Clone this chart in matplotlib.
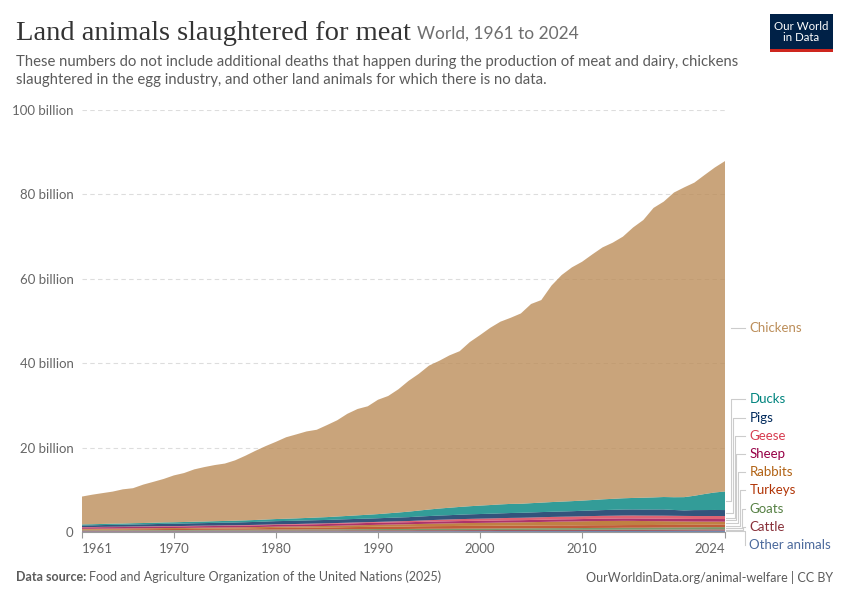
import numpy as np
import matplotlib.pyplot as plt
from matplotlib.patches import Rectangle

# Años y animales sacrificados (miles de millones)
years = np.arange(1961, 2025)

chickens = [6.6, 7.0, 7.3, 7.6, 8.1, 8.3, 9.1, 9.7, 10.3, 11.1,
            11.6, 12.4, 12.9, 13.3, 13.6, 14.3, 15.3, 16.4, 17.4, 18.3,
            19.3, 19.9, 20.5, 20.8, 21.8, 22.8, 24.2, 25.2, 25.7, 27.1,
            27.8, 29.2, 31.0, 32.4, 34.1, 35.0, 36.1, 36.9, 38.9, 40.4,
            42.0, 43.3, 44.1, 45.1, 47.2, 48.0, 51.3, 53.7, 55.4, 56.6,
            58.2, 59.7, 60.7, 62.0, 64.1, 65.8, 68.6, 70.0, 72.2, 73.4,
            74.2, 75.6, 77.0, 78.3]
ducks = [0.25, 0.26, 0.27, 0.28, 0.29, 0.30, 0.31, 0.32, 0.34, 0.35,
         0.36, 0.37, 0.38, 0.40, 0.41, 0.43, 0.44, 0.46, 0.48, 0.50,
         0.53, 0.56, 0.59, 0.63, 0.67, 0.72, 0.78, 0.84, 0.91, 0.98,
         1.08, 1.18, 1.30, 1.42, 1.55, 1.66, 1.76, 1.84, 1.92, 2.00,
         2.06, 2.12, 2.16, 2.14, 2.20, 2.24, 2.30, 2.34, 2.38, 2.42,
         2.48, 2.55, 2.60, 2.66, 2.72, 2.80, 2.86, 2.94, 3.02, 3.15,
         3.40, 3.80, 4.15, 4.40]
pigs = [0.38, 0.40, 0.42, 0.44, 0.45, 0.47, 0.49, 0.51, 0.53, 0.55,
        0.58, 0.59, 0.60, 0.63, 0.63, 0.65, 0.68, 0.70, 0.73, 0.75,
        0.76, 0.77, 0.78, 0.79, 0.80, 0.82, 0.83, 0.84, 0.85, 0.86,
        0.88, 0.90, 0.92, 0.95, 0.98, 1.00, 1.02, 1.05, 1.08, 1.10,
        1.12, 1.14, 1.16, 1.18, 1.20, 1.22, 1.22, 1.24, 1.27, 1.30,
        1.32, 1.36, 1.40, 1.43, 1.44, 1.44, 1.46, 1.48, 1.38, 1.30,
        1.40, 1.42, 1.43, 1.42]
geese = [0.08, 0.08, 0.08, 0.09, 0.09, 0.09, 0.09, 0.10, 0.10, 0.10,
         0.10, 0.11, 0.11, 0.11, 0.12, 0.12, 0.13, 0.13, 0.14, 0.15,
         0.15, 0.16, 0.16, 0.17, 0.17, 0.18, 0.18, 0.19, 0.19, 0.20,
         0.22, 0.25, 0.28, 0.32, 0.36, 0.40, 0.43, 0.46, 0.48, 0.50,
         0.52, 0.54, 0.56, 0.57, 0.58, 0.60, 0.61, 0.62, 0.64, 0.65,
         0.66, 0.67, 0.68, 0.69, 0.70, 0.70, 0.70, 0.71, 0.71, 0.70,
         0.70, 0.70, 0.71, 0.71]
sheep = [0.33, 0.33, 0.34, 0.34, 0.34, 0.35, 0.35, 0.35, 0.36, 0.36,
         0.36, 0.37, 0.37, 0.37, 0.38, 0.38, 0.38, 0.39, 0.39, 0.40,
         0.41, 0.42, 0.43, 0.44, 0.45, 0.46, 0.47, 0.48, 0.49, 0.50,
         0.50, 0.50, 0.49, 0.49, 0.49, 0.50, 0.50, 0.50, 0.50, 0.50,
         0.50, 0.50, 0.51, 0.51, 0.52, 0.52, 0.53, 0.53, 0.53, 0.53,
         0.54, 0.55, 0.56, 0.57, 0.58, 0.59, 0.60, 0.60, 0.61, 0.61,
         0.62, 0.62, 0.62, 0.62]
rabbits = [0.20, 0.20, 0.21, 0.21, 0.22, 0.22, 0.23, 0.23, 0.24, 0.24,
           0.25, 0.25, 0.26, 0.26, 0.27, 0.27, 0.28, 0.28, 0.29, 0.30,
           0.31, 0.32, 0.33, 0.34, 0.36, 0.38, 0.40, 0.42, 0.44, 0.45,
           0.47, 0.49, 0.51, 0.54, 0.57, 0.60, 0.63, 0.65, 0.68, 0.70,
           0.72, 0.74, 0.76, 0.78, 0.80, 0.83, 0.86, 0.89, 0.92, 0.95,
           0.97, 0.99, 1.00, 1.00, 0.98, 0.95, 0.92, 0.88, 0.84, 0.80,
           0.76, 0.73, 0.71, 0.70]
turkeys = [0.15, 0.16, 0.17, 0.18, 0.19, 0.20, 0.21, 0.22, 0.23, 0.24,
           0.25, 0.26, 0.27, 0.28, 0.29, 0.30, 0.32, 0.34, 0.37, 0.40,
           0.41, 0.42, 0.43, 0.44, 0.45, 0.47, 0.49, 0.51, 0.53, 0.55,
           0.57, 0.59, 0.60, 0.61, 0.62, 0.63, 0.64, 0.65, 0.65, 0.65,
           0.65, 0.66, 0.66, 0.65, 0.65, 0.65, 0.66, 0.66, 0.65, 0.65,
           0.65, 0.65, 0.64, 0.63, 0.63, 0.63, 0.62, 0.62, 0.61, 0.61,
           0.60, 0.60, 0.60, 0.60]
goats = [0.12, 0.12, 0.13, 0.13, 0.13, 0.14, 0.14, 0.14, 0.15, 0.15,
         0.15, 0.16, 0.16, 0.17, 0.17, 0.18, 0.18, 0.19, 0.19, 0.20,
         0.21, 0.21, 0.22, 0.23, 0.24, 0.25, 0.25, 0.26, 0.27, 0.28,
         0.29, 0.29, 0.30, 0.31, 0.32, 0.33, 0.33, 0.34, 0.34, 0.35,
         0.36, 0.36, 0.37, 0.38, 0.39, 0.40, 0.40, 0.41, 0.41, 0.42,
         0.43, 0.44, 0.45, 0.46, 0.47, 0.47, 0.48, 0.49, 0.49, 0.50,
         0.51, 0.51, 0.52, 0.52]
cattle = [0.17, 0.17, 0.17, 0.18, 0.18, 0.18, 0.18, 0.19, 0.19, 0.19,
          0.19, 0.20, 0.20, 0.20, 0.21, 0.21, 0.21, 0.21, 0.22, 0.22,
          0.22, 0.22, 0.23, 0.23, 0.23, 0.23, 0.24, 0.24, 0.24, 0.24,
          0.24, 0.24, 0.24, 0.25, 0.25, 0.25, 0.25, 0.25, 0.26, 0.26,
          0.26, 0.27, 0.27, 0.27, 0.28, 0.28, 0.29, 0.29, 0.29, 0.30,
          0.30, 0.30, 0.30, 0.31, 0.31, 0.31, 0.31, 0.32, 0.32, 0.32,
          0.32, 0.33, 0.33, 0.33]
other_animals = [0.12, 0.12, 0.12, 0.12, 0.12, 0.13, 0.13, 0.13, 0.13, 0.13,
                 0.13, 0.13, 0.14, 0.14, 0.14, 0.14, 0.14, 0.15, 0.15, 0.15,
                 0.15, 0.15, 0.16, 0.16, 0.16, 0.16, 0.17, 0.17, 0.17, 0.18,
                 0.18, 0.18, 0.18, 0.19, 0.19, 0.19, 0.19, 0.20, 0.20, 0.20,
                 0.20, 0.21, 0.21, 0.21, 0.21, 0.22, 0.22, 0.22, 0.22, 0.22,
                 0.23, 0.23, 0.23, 0.24, 0.24, 0.24, 0.25, 0.25, 0.26, 0.27,
                 0.28, 0.29, 0.30, 0.30]

# De abajo hacia arriba, como en el gráfico
names = ['Other animals', 'Cattle', 'Goats', 'Turkeys', 'Rabbits',
         'Sheep', 'Geese', 'Pigs', 'Ducks', 'Chickens']
series = [other_animals, cattle, goats, turkeys, rabbits,
          sheep, geese, pigs, ducks, chickens]
colors = ['#4C6A9C', '#883039', '#578145', '#B13507', '#B16214',
          '#970046', '#D73C50', '#00295B', '#00847E', '#BC8E5A']

y_ticks = [0, 20, 40, 60, 80, 100]
y_tick_labels = ['0', '20 billion', '40 billion', '60 billion', '80 billion', '100 billion']
x_ticks = [1961, 1970, 1980, 1990, 2000, 2010, 2024]

plt.rcParams['font.family'] = ['Lato', 'DejaVu Sans']

fig = plt.figure(figsize=(8.5, 6), dpi=100)
ax = fig.add_axes([82/850, 68/600, 643/850, 422/600])

ax.stackplot(years, *series, colors=colors, alpha=0.8, linewidth=0)

ax.set_xlim(1961, 2024)
ax.set_ylim(0, 100)
ax.set_yticks(y_ticks)
ax.set_yticklabels(y_tick_labels)
ax.set_xticks(x_ticks)
ax.tick_params(axis='y', length=0, pad=6, labelsize=9.5, labelcolor='#666666')
ax.tick_params(axis='x', length=4, color='#999999', pad=4, labelsize=9.5, labelcolor='#666666')
xl = ax.get_xticklabels()
xl[0].set_ha('left')
xl[-1].set_ha('right')
for s in ['top', 'right', 'left']:
    ax.spines[s].set_visible(False)
ax.spines['bottom'].set_color('#999999')
for t in y_ticks[1:]:
    ax.axhline(t, color='#dddddd', linestyle=(0, (4, 3)), linewidth=0.8, zorder=0)

# Etiquetas a la derecha con conectores
cum = np.cumsum(np.array(series), axis=0)
last_top = cum[:, -1]
last_bottom = last_top - np.array(series)[:, -1]
mids = (last_top + last_bottom) / 2

x_end = 2024.1
x_label = 2026.4
step = 18.2 / 4.22
for i, (name, col) in enumerate(zip(names, colors)):
    if name == 'Chickens':
        ly = mids[i] - 0.4
        ax.plot([x_end + 0.5, x_label - 0.4], [ly, ly], color='#cccccc', lw=0.8, clip_on=False)
    else:
        ly = -3.1 + i * step
        xv = 2024.6 + (8 - i) * 0.17
        ax.plot([x_end, xv, xv, x_label - 0.4], [mids[i], mids[i], ly, ly],
                color='#cccccc', lw=0.8, clip_on=False)
    ax.text(x_label, ly, name, color=col, fontsize=9.5, va='center', ha='left', clip_on=False)

# Título, subtítulo y pie
fig.canvas.draw()
r = fig.canvas.get_renderer()
title = fig.text(16/850, 1 - 33/600, 'Land animals slaughtered for meat', fontsize=20.5,
                 family=['Liberation Serif', 'DejaVu Serif'], color='#333333', va='center')
tb = title.get_window_extent(renderer=r)
fig.text((tb.x1 + 6) / 850, 1 - 34/600, 'World, 1961 to 2024', fontsize=12.5,
         color='#6e6e6e', va='center')
fig.text(16/850, 1 - 71/600,
         'These numbers do not include additional deaths that happen during the production of meat and dairy, chickens\n'
         'slaughtered in the egg industry, and other land animals for which there is no data.',
         fontsize=10.7, color='#5b5b5b', va='center', linespacing=1.3)
src = fig.text(16/850, 1 - 577/600, 'Data source:', fontsize=9, color='#5b5b5b',
               fontweight='bold', va='center')
sb = src.get_window_extent(renderer=r)
fig.text((sb.x1 + 3) / 850, 1 - 577/600, 'Food and Agriculture Organization of the United Nations (2025)',
         fontsize=9, color='#5b5b5b', va='center')
fig.text(833/850, 1 - 577/600, 'OurWorldinData.org/animal-welfare | CC BY',
         fontsize=9, color='#5b5b5b', va='center', ha='right')

# Logo
fig.patches.append(Rectangle((770/850, 1 - 50/600), 63/850, 36/600, transform=fig.transFigure,
                             facecolor='#002147', edgecolor='none'))
fig.patches.append(Rectangle((770/850, 1 - 52/600), 63/850, 3/600, transform=fig.transFigure,
                             facecolor='#CE261E', edgecolor='none'))
fig.text(801.5/850, 1 - 32/600, 'Our World\nin Data', fontsize=8.3, color='white',
         ha='center', va='center', linespacing=1.05)

fig.savefig('out.png', dpi=100)
